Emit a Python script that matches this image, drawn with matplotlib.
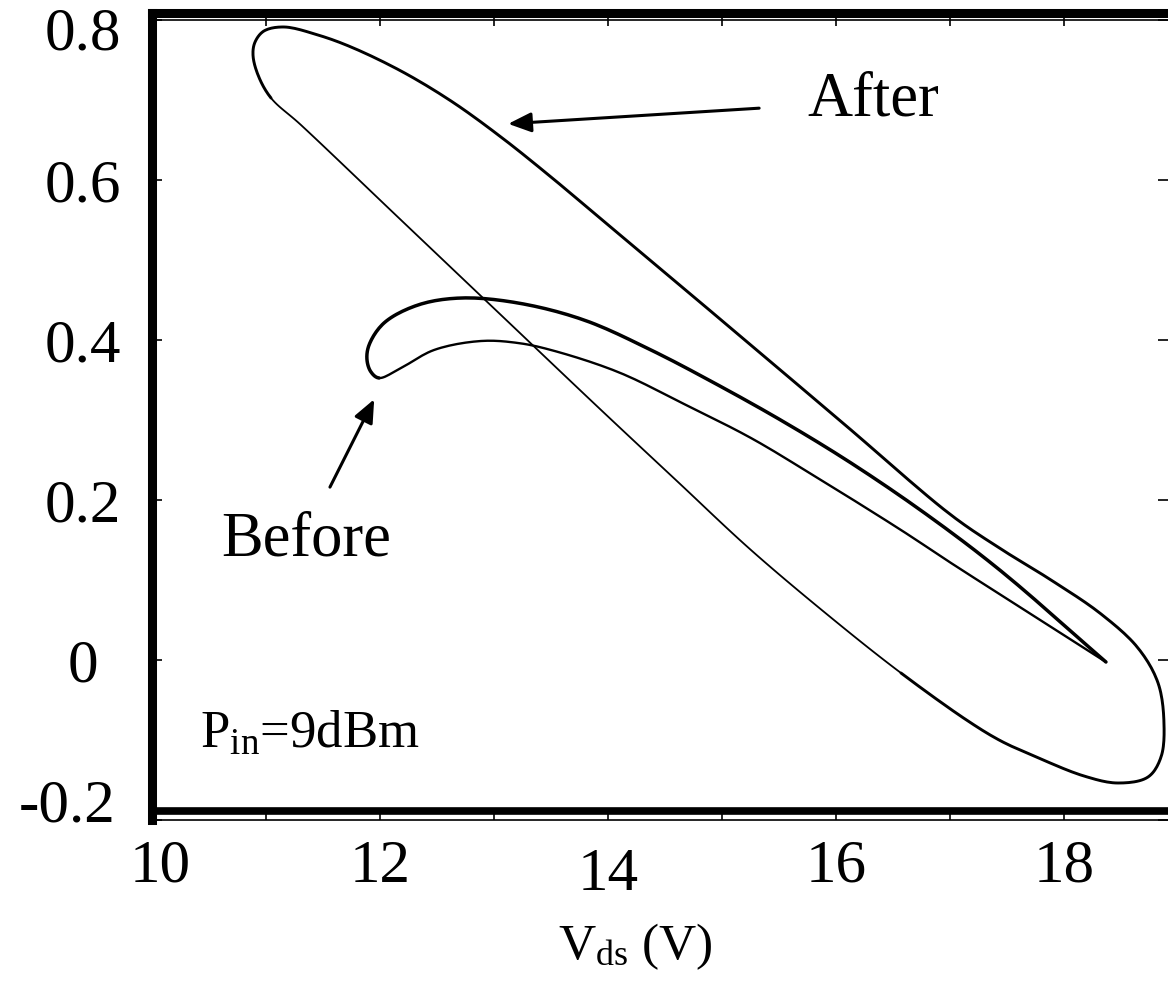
import matplotlib
matplotlib.use("Agg")
import matplotlib.pyplot as plt
from matplotlib.transforms import ScaledTranslation
import numpy as np

plt.rcParams['font.family'] = ['Liberation Serif', 'DejaVu Serif']
plt.rcParams['mathtext.fontset'] = 'custom'
plt.rcParams['mathtext.rm'] = 'Liberation Serif'
plt.rcParams['mathtext.it'] = 'Liberation Serif:italic'

# ---- data (Vds in V, drain current in A) ----
# "After" loop: thick part (tip -> upper branch -> right turn -> bottom)
after_a_v = [11.044, 10.930, 10.886, 10.904, 10.982, 11.158, 11.456, 11.746, 12.184, 12.623,
             13.061, 13.500, 13.939, 14.816, 15.781, 16.132, 17.009, 17.447, 17.886, 18.325,
             18.649, 18.825, 18.877, 18.851, 18.737, 18.474, 18.175, 17.737, 17.447, 17.158,
             16.570]
after_a_i = [0.7025, 0.73125, 0.75625, 0.7725, 0.78625, 0.79125, 0.78125, 0.76625, 0.73625, 0.69875,
             0.65375, 0.60375, 0.55125, 0.44625, 0.33, 0.2875, 0.18125, 0.13875, 0.100, 0.0575,
             0.015, -0.02875, -0.07875, -0.12125, -0.14625, -0.15375, -0.145, -0.12, -0.10125,
             -0.07625, -0.01625]
# "After" loop: thin lower branch back to the tip
after_b_v = [16.570, 15.982, 15.254, 14.614, 13.939, 13.061, 12.184, 11.307, 11.044]
after_b_i = [-0.01625, 0.05, 0.1375, 0.2225, 0.3125, 0.43125, 0.55, 0.66875, 0.7025]

# "Before" loop: upper branch (tip -> left end), lower branch (left end -> tip)
before_a_v = [18.368, 17.447, 16.789, 16.132, 15.544, 14.965, 14.377, 13.789, 13.211, 12.711,
              12.333, 12.035, 11.904, 11.886, 11.921, 11.991]
before_a_i = [-0.0025, 0.11125, 0.1825, 0.24625, 0.2975, 0.34375, 0.3875, 0.425, 0.44625, 0.4525,
              0.44375, 0.42125, 0.39375, 0.375, 0.36, 0.3525]
before_b_v = [11.991, 12.184, 12.474, 12.886, 13.211, 13.500, 14.088, 14.667, 15.254, 15.754,
              16.570, 17.009, 17.447, 18.368]
before_b_i = [0.3525, 0.365, 0.3875, 0.39875, 0.39625, 0.3875, 0.36, 0.32, 0.2775, 0.235,
              0.1625, 0.12125, 0.08125, -0.0025]

x_ticks = [10, 11, 12, 13, 14, 15, 16, 17, 18]
x_labels = ['10', '', '12', '', '14', '', '16', '', '18']
y_ticks = [-0.2, 0.0, 0.2, 0.4, 0.6, 0.8]
y_labels = ['-0.2', '0', '0.2', '0.4', '0.6', '0.8']

PER = 12


def smooth(xs, ys, closed=False, sx=114.0, sy=800.0, per=PER):
    """Centripetal Catmull-Rom spline through the read points."""
    P = np.column_stack([np.asarray(xs, float) * sx, np.asarray(ys, float) * sy])
    n = len(P)
    if closed:
        Q = np.vstack([P[-1], P, P[0], P[1]])
        nseg = n
    else:
        Q = np.vstack([2 * P[0] - P[1], P, 2 * P[-1] - P[-2]])
        nseg = n - 1
    out = []
    for k in range(1, nseg + 1):
        p0, p1, p2, p3 = Q[k - 1], Q[k], Q[k + 1], Q[k + 2]
        t0 = 0.0
        t1 = t0 + max(np.linalg.norm(p1 - p0), 1e-6) ** 0.5
        t2 = t1 + max(np.linalg.norm(p2 - p1), 1e-6) ** 0.5
        t3 = t2 + max(np.linalg.norm(p3 - p2), 1e-6) ** 0.5
        t = np.linspace(t1, t2, per, endpoint=False)[:, None]
        a1 = (t1 - t) / (t1 - t0) * p0 + (t - t0) / (t1 - t0) * p1
        a2 = (t2 - t) / (t2 - t1) * p1 + (t - t1) / (t2 - t1) * p2
        a3 = (t3 - t) / (t3 - t2) * p2 + (t - t2) / (t3 - t2) * p3
        b1 = (t2 - t) / (t2 - t0) * a1 + (t - t0) / (t2 - t0) * a2
        b2 = (t3 - t) / (t3 - t1) * a2 + (t - t1) / (t3 - t1) * a3
        c = (t2 - t) / (t2 - t1) * b1 + (t - t1) / (t2 - t1) * b2
        out.append(c)
    out.append(Q[nseg + 1][None, :] if not closed else Q[1][None, :])
    C = np.vstack(out)
    return C[:, 0] / sx, C[:, 1] / sy


W, H = 1168, 998
fig = plt.figure(figsize=(W / 100, H / 100), dpi=100)
ax_left, ax_right, ax_bot, ax_top = 152, 1168, 820, 13
ax = fig.add_axes([ax_left / W, 1 - ax_bot / H, (ax_right - ax_left) / W, (ax_bot - ax_top) / H])
ax.set_xlim(10, 10 + (ax_right - ax_left) / 114)
ax.set_ylim(-0.2, -0.2 + (ax_bot - ax_top) / 800)

# After loop: closed, smoothed as one curve then split into thick / thin parts
av = after_a_v + after_b_v[1:-1]
ai = after_a_i + after_b_i[1:-1]
sv, si = smooth(av, ai, closed=True)
j = (len(after_a_v) - 1) * PER
ax.plot(sv[:j + 1], si[:j + 1], color='black', lw=2.1, solid_capstyle='round')
ax.plot(sv[j:], si[j:], color='black', lw=1.3, solid_capstyle='round')

# Before loop: open curve from tip to tip (sharp tip at the right)
bv = before_a_v + before_b_v[1:]
bi = before_a_i + before_b_i[1:]
sv, si = smooth(bv, bi, closed=False)
j = (len(before_a_v) - 1) * PER
ax.plot(sv[:j + 1], si[:j + 1], color='black', lw=2.5, solid_capstyle='round')
ax.plot(sv[j:], si[j:], color='black', lw=1.7, solid_capstyle='round')

# frame
for s in ('left', 'top'):
    ax.spines[s].set_linewidth(6.5)
ax.spines['right'].set_visible(False)
ax.spines['bottom'].set_linewidth(1.2)
ax.plot([0, 1], [0.011, 0.011], transform=ax.transAxes, color='black', lw=5.5, clip_on=False)
ax.plot([0, 1], [0.991, 0.991], transform=ax.transAxes, color='black', lw=1.2, clip_on=False)

ax.set_xticks(x_ticks)
ax.set_xticklabels(x_labels)
ax.set_yticks(y_ticks)
ax.set_yticklabels(y_labels)
ax.tick_params(axis='x', direction='in', length=9, width=1.2, top=True, bottom=True,
               labelsize=44, pad=14)
ax.tick_params(axis='y', direction='in', length=7, width=1.2, left=True, right=True,
               labelsize=44, pad=50)
for lab in ax.get_yticklabels():
    lab.set_horizontalalignment('center')

# small label offsets as in the reference
ylabs = ax.get_yticklabels()
ylabs[0].set_transform(ylabs[0].get_transform() + ScaledTranslation(-0.15, 0.2, fig.dpi_scale_trans))
ylabs[-1].set_transform(ylabs[-1].get_transform() + ScaledTranslation(0, -0.08, fig.dpi_scale_trans))
xlabs = ax.get_xticklabels()
xlabs[0].set_transform(xlabs[0].get_transform() + ScaledTranslation(0.08, 0, fig.dpi_scale_trans))
xlabs[4].set_transform(xlabs[4].get_transform() + ScaledTranslation(0, -0.08, fig.dpi_scale_trans))

# annotations
ax.annotate('', xy=(13.1, 0.67), xytext=(15.35, 0.69),
            arrowprops=dict(arrowstyle='-|>,head_length=1.4,head_width=0.6', color='black', lw=2.2))
ax.text(15.75, 0.70, 'After', fontsize=45, ha='left', va='center')
ax.annotate('', xy=(11.96, 0.329), xytext=(11.55, 0.213),
            arrowprops=dict(arrowstyle='-|>,head_length=1.4,head_width=0.6', color='black', lw=2.2))
ax.text(11.35, 0.15, 'Before', fontsize=45, ha='center', va='center')
ax.text(10.42, -0.11, r'P$_{\mathrm{in}}$=9dBm', fontsize=38, ha='left', va='baseline')

fig.text(635 / W, 1 - 947 / H, r'V$_{\mathrm{ds}}$ (V)', fontsize=37, ha='center', va='center')

fig.savefig('out.png', dpi=100)
